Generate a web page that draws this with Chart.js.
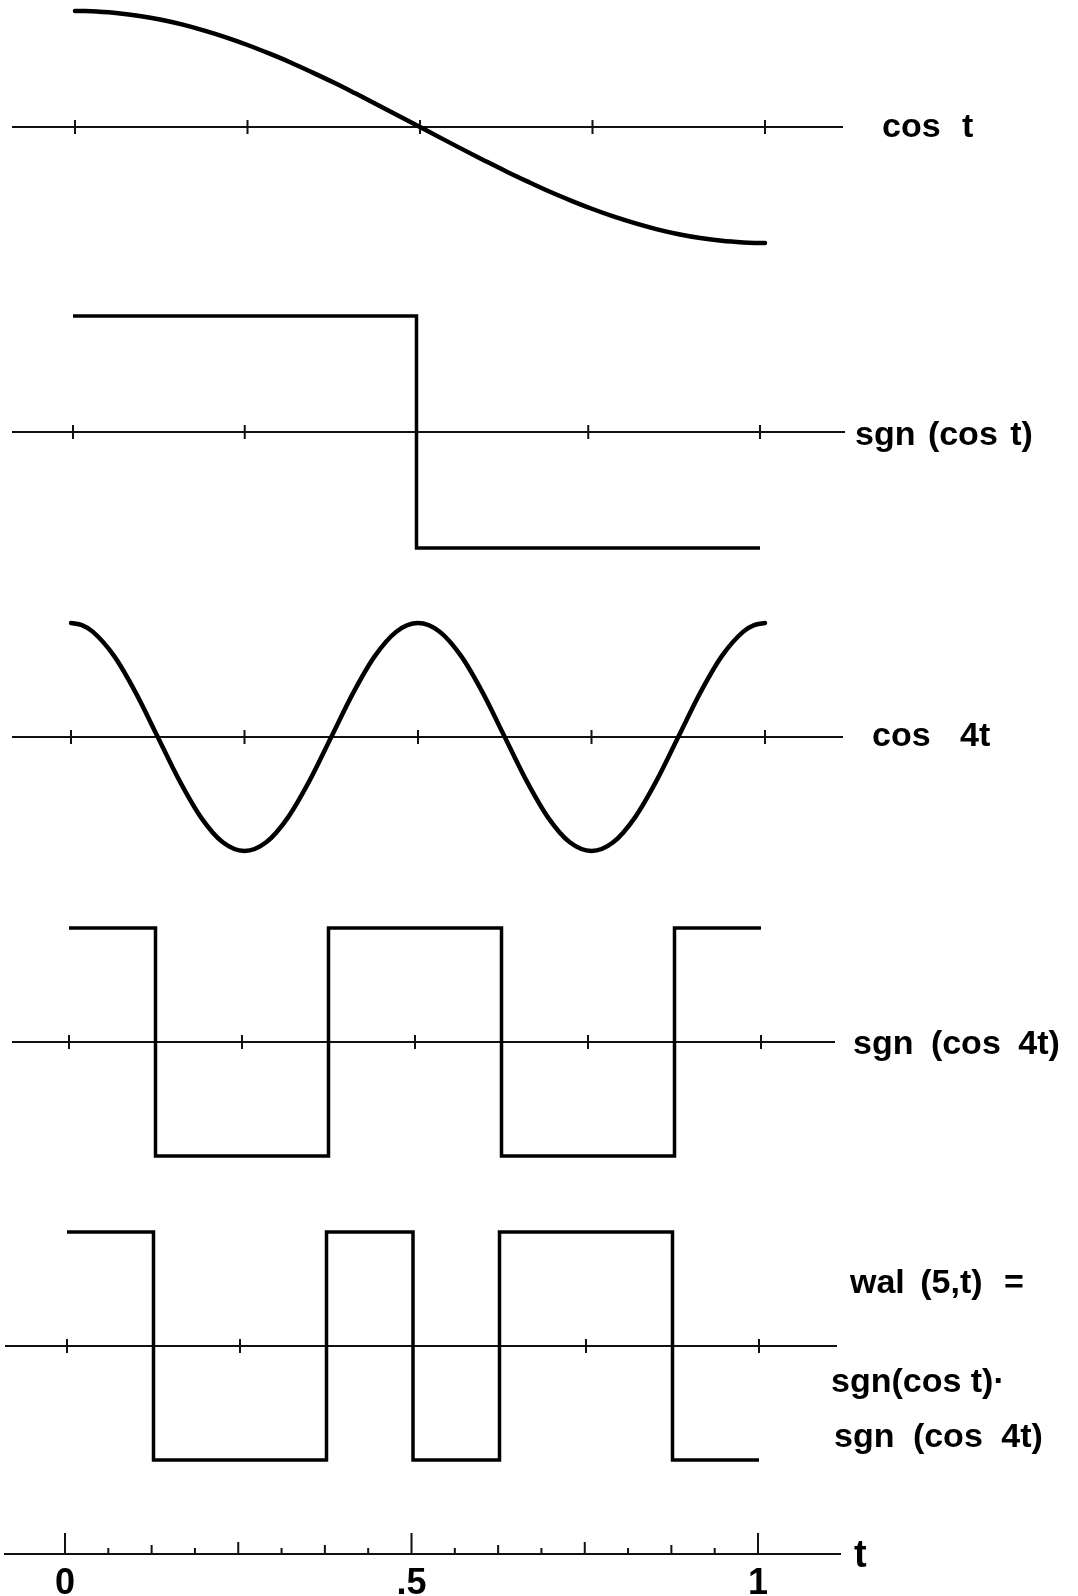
<!DOCTYPE html>
<html>
<head>
<meta charset="utf-8">
<title>wal(5,t) = sgn(cos t) · sgn(cos 4t)</title>
<script src="https://cdn.jsdelivr.net/npm/chart.js@4.4.1/dist/chart.umd.min.js"></script>
<style>
    html, body { margin: 0; padding: 0; background: #fff; }
    #page { position: relative; width: 1078px; height: 1596px; overflow: hidden; background: #fff; }
    canvas { position: absolute; left: 0; }
    .lbl { position: absolute; font: bold 34px "Liberation Sans", Arial, sans-serif; line-height: 34px; color: #000; white-space: pre; }
</style>
</head>
<body>
<div id="page">
    <canvas id="p1"></canvas>
    <canvas id="p2"></canvas>
    <canvas id="p3"></canvas>
    <canvas id="p4"></canvas>
    <canvas id="p5"></canvas>
    <canvas id="taxis"></canvas>

    <span class="lbl" style="left:882px; top:108px; word-spacing:12px;">cos t</span>
    <span class="lbl" style="left:855px; top:416px; word-spacing:3px;">sgn (cos t)</span>
    <span class="lbl" style="left:872px; top:717px; word-spacing:20px;">cos 4t</span>
    <span class="lbl" style="left:853px; top:1025px; word-spacing:8px;">sgn (cos 4t)</span>
    <span class="lbl" style="left:850px; top:1264px; word-spacing:6px;">wal (5,t) <span style="margin-left:6px;">=</span></span>
    <span class="lbl" style="left:831px; top:1363px;">sgn(cos t)·</span>
    <span class="lbl" style="left:834px; top:1418px; word-spacing:9px;">sgn (cos 4t)</span>
    <span class="lbl" style="left:854px; top:1535px; font-size:38px; line-height:38px;">t</span>
</div>
<script>
// values (t runs from 0 to 1)
var curveT = [0, 0.015625, 0.03125, 0.0625, 0.09375, 0.125, 0.15625, 0.1875, 0.21875, 0.25, 0.28125, 0.3125, 0.34375, 0.375, 0.40625, 0.4375, 0.46875,
              0.5, 0.53125, 0.5625, 0.59375, 0.625, 0.65625, 0.6875, 0.71875, 0.75, 0.78125, 0.8125, 0.84375, 0.875, 0.90625, 0.9375, 0.96875, 0.984375, 1];
var cosT = [1.000, 0.999, 0.995, 0.981, 0.957, 0.924, 0.882, 0.831, 0.773, 0.707, 0.634, 0.556, 0.471, 0.383, 0.290, 0.195, 0.098,
            0.000, -0.098, -0.195, -0.290, -0.383, -0.471, -0.556, -0.634, -0.707, -0.773, -0.831, -0.882, -0.924, -0.957, -0.981, -0.995, -0.999, -1.000];
var cos4T = [1.000, 0.981, 0.924, 0.707, 0.383, 0.000, -0.383, -0.707, -0.924, -1.000, -0.924, -0.707, -0.383, 0.000, 0.383, 0.707, 0.924,
             1.000, 0.924, 0.707, 0.383, 0.000, -0.383, -0.707, -0.924, -1.000, -0.924, -0.707, -0.383, 0.000, 0.383, 0.707, 0.924, 0.981, 1.000];

// square waves: level holds until the next switching time
var sgnCosT_t = [0, 0.5, 1];
var sgnCosT = [1, -1, -1];
var sgnCos4T_t = [0, 0.125, 0.375, 0.625, 0.875, 1];
var sgnCos4T = [1, -1, 1, -1, 1, 1];
var wal5_t = [0, 0.125, 0.375, 0.5, 0.625, 0.875, 1];
var wal5 = [1, -1, 1, -1, 1, -1, -1];

// axis ticks
var panelTicks = [0, 0.25, 0.5, 0.75, 1];
var tAxisTicks = [0, 0.0625, 0.125, 0.1875, 0.25, 0.3125, 0.375, 0.4375, 0.5,
                  0.5625, 0.625, 0.6875, 0.75, 0.8125, 0.875, 0.9375, 1];
var tAxisLabelT = [0, 0.5, 1];
var tAxisLabels = ['0', '.5', '1'];

// where each strip sits on the page
var PANEL_H = 290;
var frames = {
    p1: { mid: 127, amp: 116, x0: 75, x1: 765, left: 12, right: 843 },
    p2: { mid: 432, amp: 116, x0: 73, x1: 760, left: 12, right: 845 },
    p3: { mid: 737, amp: 114, x0: 71, x1: 765, left: 12, right: 843 },
    p4: { mid: 1042, amp: 114, x0: 69, x1: 761, left: 12, right: 835 },
    p5: { mid: 1346, amp: 114, x0: 67, x1: 759, left: 5, right: 837 }
};
var bottomFrame = { top: 1496, height: 100, axisY: 1554, x0: 65, x1: 758, left: 5, right: 840 };

function toPoints(xs, ys) {
    return xs.map(function (x, i) { return { x: x, y: ys[i] }; });
}

// thin centre line with short ticks crossing it
var panelAxis = {
    id: 'panelAxis',
    beforeDatasetsDraw: function (chart, args, opts) {
        var ctx = chart.ctx, area = chart.chartArea;
        var xs = chart.scales.x, ys = chart.scales.y;
        var y0 = ys.getPixelForValue(0);
        ctx.save();
        ctx.strokeStyle = '#111';
        ctx.lineWidth = 2;
        ctx.beginPath();
        ctx.moveTo(area.left, y0);
        ctx.lineTo(area.right, y0);
        opts.ticks.forEach(function (t) {
            var x = xs.getPixelForValue(t);
            ctx.moveTo(x, y0 - 7);
            ctx.lineTo(x, y0 + 7);
        });
        ctx.stroke();
        ctx.restore();
    }
};

function makePanel(id, dataset) {
    var f = frames[id];
    var canvas = document.getElementById(id);
    canvas.width = 1078;
    canvas.height = PANEL_H;
    canvas.style.top = (f.mid - PANEL_H / 2) + 'px';
    var ppu = f.x1 - f.x0;
    var r = (PANEL_H / 2) / f.amp;

    dataset.borderColor = '#000';
    dataset.pointRadius = 0;
    dataset.fill = false;
    dataset.clip = false;

    return new Chart(canvas.getContext('2d'), {
        type: 'line',
        data: { datasets: [dataset] },
        options: {
            responsive: false,
            animation: false,
            events: [],
            layout: { padding: { left: f.left, right: 1078 - f.right, top: 0, bottom: 0 } },
            plugins: {
                legend: { display: false },
                tooltip: { enabled: false },
                panelAxis: { ticks: panelTicks }
            },
            scales: {
                x: { type: 'linear', display: false, min: (f.left - f.x0) / ppu, max: (f.right - f.x0) / ppu },
                y: { display: false, min: -r, max: r }
            }
        },
        plugins: [panelAxis]
    });
}

makePanel('p1', {
    label: 'cos t', data: toPoints(curveT, cosT),
    borderWidth: 4.5, cubicInterpolationMode: 'monotone', borderCapStyle: 'round'
});
makePanel('p2', {
    label: 'sgn (cos t)', data: toPoints(sgnCosT_t, sgnCosT),
    borderWidth: 3.5, stepped: true, borderJoinStyle: 'miter'
});
makePanel('p3', {
    label: 'cos 4t', data: toPoints(curveT, cos4T),
    borderWidth: 4.5, cubicInterpolationMode: 'monotone', borderCapStyle: 'round'
});
makePanel('p4', {
    label: 'sgn (cos 4t)', data: toPoints(sgnCos4T_t, sgnCos4T),
    borderWidth: 3.5, stepped: true, borderJoinStyle: 'miter'
});
makePanel('p5', {
    label: 'wal (5,t)', data: toPoints(wal5_t, wal5),
    borderWidth: 3.5, stepped: true, borderJoinStyle: 'miter'
});

// t axis at the bottom: upward ticks, longer at quarters and halves
var tAxisMarks = {
    id: 'tAxisMarks',
    afterDraw: function (chart) {
        var ctx = chart.ctx, xs = chart.scales.x;
        var y0 = chart.chartArea.bottom;
        ctx.save();
        ctx.strokeStyle = '#111';
        ctx.lineWidth = 2;
        ctx.beginPath();
        tAxisTicks.forEach(function (t, i) {
            var h = i % 8 === 0 ? 21 : (i % 4 === 0 ? 12 : (i % 2 === 0 ? 9 : 6));
            var x = xs.getPixelForValue(t);
            ctx.moveTo(x, y0);
            ctx.lineTo(x, y0 - h);
        });
        ctx.stroke();
        ctx.restore();
    }
};

(function () {
    var f = bottomFrame;
    var canvas = document.getElementById('taxis');
    canvas.width = 1078;
    canvas.height = f.height;
    canvas.style.top = f.top + 'px';
    var ppu = f.x1 - f.x0;
    var axisH = f.top + f.height - f.axisY;

    new Chart(canvas.getContext('2d'), {
        type: 'line',
        data: { datasets: [{ label: 't', data: [] }] },
        options: {
            responsive: false,
            animation: false,
            events: [],
            layout: { padding: { left: f.left, right: 1078 - f.right, top: 0, bottom: 0 } },
            plugins: { legend: { display: false }, tooltip: { enabled: false } },
            scales: {
                x: {
                    type: 'linear',
                    position: 'bottom',
                    min: (f.left - f.x0) / ppu,
                    max: (f.right - f.x0) / ppu,
                    afterBuildTicks: function (scale) {
                        scale.ticks = tAxisLabelT.map(function (v) { return { value: v }; });
                    },
                    afterFit: function (scale) { scale.height = axisH; },
                    grid: { display: false, drawTicks: false },
                    border: { display: true, color: '#111', width: 2 },
                    ticks: {
                        autoSkip: false,
                        maxRotation: 0,
                        padding: 8,
                        color: '#000',
                        font: { family: 'Liberation Sans', size: 36, weight: 'bold' },
                        callback: function (value, index) { return tAxisLabels[index]; }
                    }
                },
                y: { display: false, min: -1, max: 1 }
            }
        },
        plugins: [tAxisMarks]
    });
})();
</script>
</body>
</html>
